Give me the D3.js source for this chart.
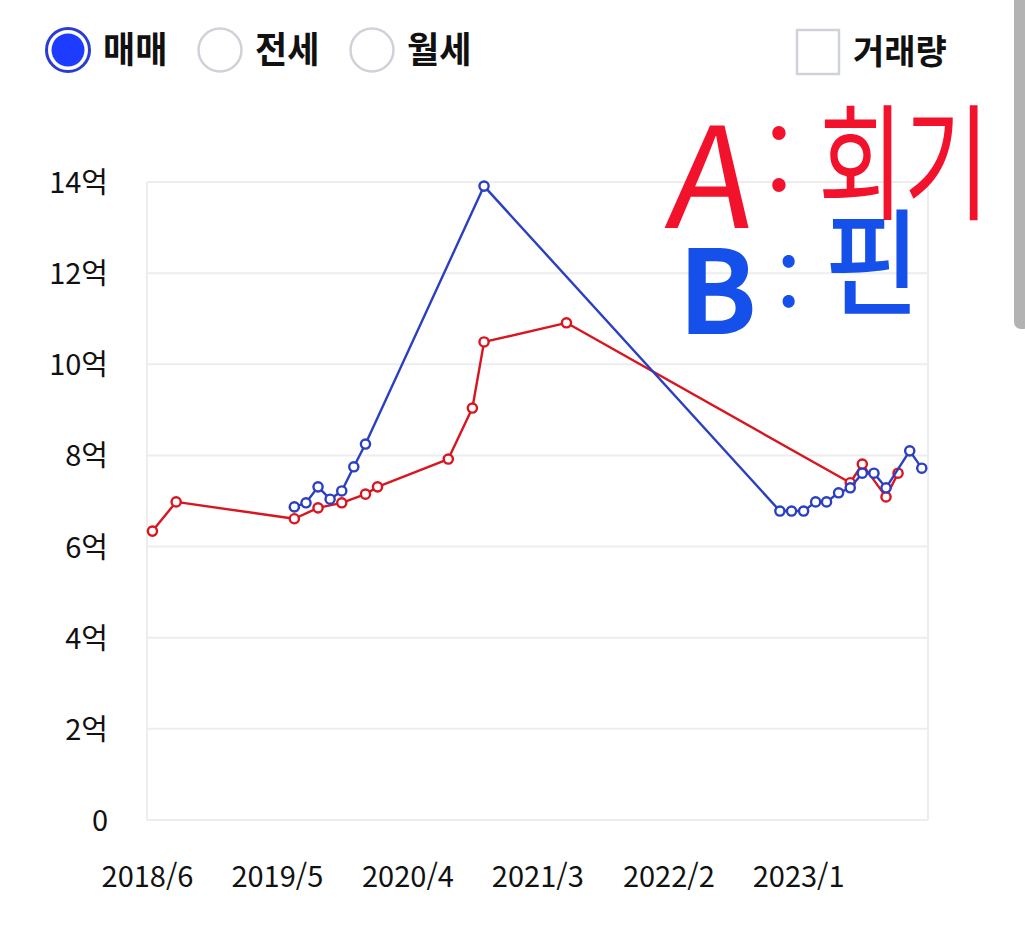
<!DOCTYPE html>
<html lang="ko">
<head>
<meta charset="utf-8">
<script src="https://cdn.jsdelivr.net/npm/d3@7"></script>
<style>
  html, body { margin: 0; padding: 0; background: #fff; }
  svg { display: block; font-family: "Noto Sans CJK KR", "Noto Sans", sans-serif; }
</style>
</head>
<body>
<div id="chart"></div>
<script>
// ── 데이터 ────────────────────────────────────────────────────────────────
const tabs        = ['매매', '전세', '월세'];
const volumeLabel = '거래량';
const xTickLabels = ['2018/6', '2019/5', '2020/4', '2021/3', '2022/2', '2023/1'];
const yTicks      = [0, 2, 4, 6, 8, 10, 12, 14];

// A (빨강)
const monthsA = ['2018-06', '2018-08', '2019-06', '2019-08', '2019-10', '2019-12', '2020-01',
                 '2020-07', '2020-09', '2020-10', '2021-05', '2023-05', '2023-06', '2023-08', '2023-09'];
const valuesA = [6.34, 6.98, 6.61, 6.85, 6.96, 7.15, 7.31, 7.92, 9.04, 10.49, 10.91, 7.40, 7.81, 7.09, 7.61];

// B (파랑)
const monthsB = ['2019-06', '2019-07', '2019-08', '2019-09', '2019-10', '2019-11', '2019-12', '2020-10',
                 '2022-11', '2022-12', '2023-01', '2023-02', '2023-03', '2023-04', '2023-05', '2023-06',
                 '2023-07', '2023-08', '2023-10', '2023-11'];
const valuesB = [6.87, 6.96, 7.31, 7.04, 7.22, 7.75, 8.25, 13.91, 6.78, 6.78, 6.78, 6.98, 6.98, 7.18,
                 7.29, 7.61, 7.61, 7.29, 8.10, 7.72];

// ── 설정 ──────────────────────────────────────────────────────────────────
const W = 1025, H = 931;
const plot = { left: 147, right: 928, top: 182, bottom: 820 };
const RED = '#d9151f', BLUE = '#2b3fc2';

const parseMonth = d3.timeParse('%Y-%m');
const parseTick  = d3.timeParse('%Y/%m');
// 거래일은 월 중순으로 찍힘
const midMonth = s => d3.timeDay.offset(parseMonth(s), 14);

const seriesA = monthsA.map((m, i) => ({ date: midMonth(m), value: valuesA[i] }));
const seriesB = monthsB.map((m, i) => ({ date: midMonth(m), value: valuesB[i] }));

const svg = d3.select('#chart').append('svg')
  .attr('width', W).attr('height', H)
  .attr('viewBox', `0 0 ${W} ${H}`);

const x = d3.scaleTime()
  .domain([new Date(2018, 5, 1), new Date(2023, 11, 1)])
  .range([plot.left, plot.right]);

const y = d3.scaleLinear()
  .domain([0, 14])
  .range([plot.bottom, plot.top]);

// ── 상단 탭 / 체크박스 ────────────────────────────────────────────────────
const tabX = [68, 220, 372];
const header = svg.append('g');

tabs.forEach((t, i) => {
  const g = header.append('g').attr('transform', `translate(${tabX[i]},50)`);
  if (i === 0) {
    g.append('circle').attr('r', 21.5).attr('fill', '#fff')
      .attr('stroke', '#2a3bd6').attr('stroke-width', 3);
    g.append('circle').attr('r', 16.5).attr('fill', '#1d3cff');
  } else {
    g.append('circle').attr('r', 21.5).attr('fill', '#fff')
      .attr('stroke', '#cfd3d9').attr('stroke-width', 2.5);
  }
  g.append('text')
    .attr('x', 35).attr('y', 0).attr('dy', '0.36em')
    .attr('transform', 'scale(1,1.05)')
    .style('font-size', '35px').style('font-weight', 700).style('fill', '#111')
    .text(t);
});

header.append('rect')
  .attr('x', 797).attr('y', 30).attr('width', 42).attr('height', 44)
  .attr('fill', '#fff').attr('stroke', '#cfd3d9').attr('stroke-width', 2.5);
header.append('text')
  .attr('x', 853).attr('y', 52).attr('dy', '0.36em')
  .style('font-size', '34px').style('font-weight', 700).style('fill', '#111')
  .text(volumeLabel);

// 스크롤바
svg.append('rect')
  .attr('x', 1014).attr('y', -12).attr('width', 16).attr('height', 341)
  .attr('rx', 7).attr('fill', '#b3b3b3');

// ── 격자 / 축 ─────────────────────────────────────────────────────────────
const grid = svg.append('g');
grid.selectAll('line.h')
  .data(yTicks)
  .join('line')
  .attr('class', 'h')
  .attr('x1', plot.left).attr('x2', plot.right)
  .attr('y1', d => y(d)).attr('y2', d => y(d))
  .attr('stroke', '#ededed').attr('stroke-width', 2);

grid.selectAll('line.v')
  .data([plot.left, plot.right])
  .join('line')
  .attr('class', 'v')
  .attr('x1', d => d).attr('x2', d => d)
  .attr('y1', plot.top).attr('y2', plot.bottom)
  .attr('stroke', '#ededed').attr('stroke-width', 2);

const yAxis = d3.axisLeft(y)
  .tickValues(yTicks)
  .tickSize(0)
  .tickPadding(0)
  .tickFormat(d => d === 0 ? '0' : `${d}억`);

svg.append('g')
  .attr('transform', 'translate(108,0)')
  .call(yAxis)
  .call(g => g.select('.domain').remove())
  .call(g => g.selectAll('text')
    .attr('dy', '0.36em')
    .style('font-family', '"Noto Sans CJK KR", sans-serif')
    .style('font-size', '29px')
    .style('fill', '#111'));

const xAxis = d3.axisBottom(x)
  .tickValues(xTickLabels.map(parseTick))
  .tickSize(0)
  .tickPadding(0)
  .tickFormat(d3.timeFormat('%Y/%-m'));

svg.append('g')
  .attr('transform', 'translate(0,866)')
  .call(xAxis)
  .call(g => g.select('.domain').remove())
  .call(g => g.selectAll('text')
    .attr('dy', '0.71em')
    .style('font-family', '"Noto Sans CJK KR", sans-serif')
    .style('font-size', '29px')
    .style('fill', '#111'));

// ── 선 ───────────────────────────────────────────────────────────────────
const line = d3.line().x(d => x(d.date)).y(d => y(d.value));

function drawSeries(data, color) {
  const g = svg.append('g');
  g.append('path')
    .datum(data)
    .attr('d', line)
    .attr('fill', 'none')
    .attr('stroke', color)
    .attr('stroke-width', 2.4)
    .attr('stroke-linejoin', 'round');
  g.selectAll('circle')
    .data(data)
    .join('circle')
    .attr('cx', d => x(d.date))
    .attr('cy', d => y(d.value))
    .attr('r', 4.6)
    .attr('fill', '#fff')
    .attr('stroke', color)
    .attr('stroke-width', 2.4);
}
drawSeries(seriesA, RED);
drawSeries(seriesB, BLUE);

// ── 손글씨 메모 ──────────────────────────────────────────────────────────
const note = svg.append('g').style('font-family', '"Noto Sans CJK KR", sans-serif');

note.append('text')
  .attr('transform', 'translate(664,228) skewX(-6)')
  .style('font-size', '140px').style('font-weight', 400).style('fill', '#f2122c')
  .text('A');
note.append('text')
  .attr('transform', 'translate(765,200)')
  .style('font-size', '100px').style('font-weight', 400).style('fill', '#f2122c')
  .text(':');
note.append('text')
  .attr('transform', 'translate(818,210) scale(0.74,1)')
  .style('font-size', '126px').style('font-weight', 400).style('fill', '#f2122c')
  .text('회기');

note.append('text')
  .attr('transform', 'translate(678,334)')
  .style('font-size', '116px').style('font-weight', 700).style('fill', '#1650ea')
  .text('B');
note.append('text')
  .attr('transform', 'translate(777,313)')
  .style('font-size', '78px').style('font-weight', 500).style('fill', '#1650ea')
  .text(':');
note.append('text')
  .attr('transform', 'translate(824,306) scale(0.9,1)')
  .style('font-size', '116px').style('font-weight', 500).style('fill', '#1650ea')
  .text('핀');
</script>
</body>
</html>
